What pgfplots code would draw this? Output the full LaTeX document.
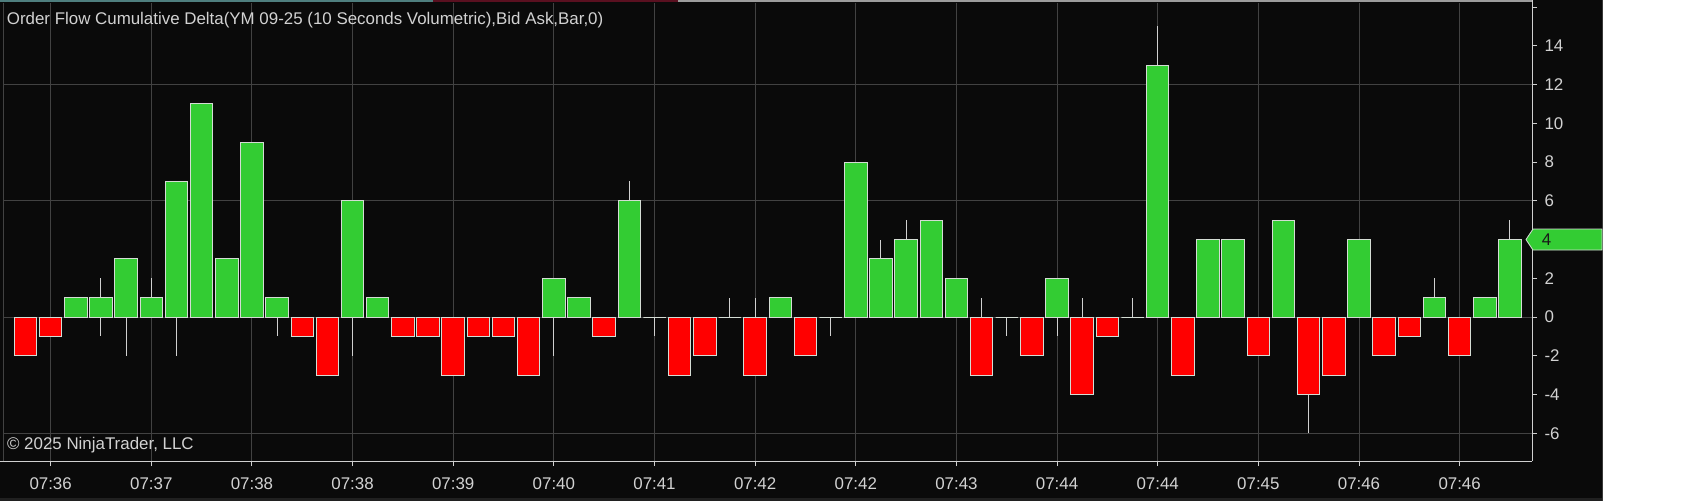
\documentclass[border=0pt]{standalone}
\usepackage{fontspec}
\setmainfont{Liberation Sans}
\usepackage{pgfplots}
\pgfplotsset{compat=1.18}
\definecolor{bg}{HTML}{0A0A0A}
\definecolor{gridgray}{HTML}{424242}
\definecolor{axisgray}{HTML}{D0D0D0}
\definecolor{txtgray}{HTML}{D2D2D2}
\definecolor{barGreen}{HTML}{33CC33}
\definecolor{barRed}{HTML}{FF0000}
\definecolor{edgegray}{HTML}{D4DCD4}
\definecolor{wickgray}{HTML}{D0D0D0}
\definecolor{topteal}{HTML}{4F7F7F}
\definecolor{topred}{HTML}{5A1020}
\newcommand{\ntfont}{\fontsize{16.9}{20}\selectfont}
\begin{document}
\begin{tikzpicture}[x=1pt,y=1pt]
\fill[white] (0,0) rectangle (1707,501);
\fill[bg] (0,0) rectangle (1603,501);
\begin{axis}[
  at={(3pt,40pt)}, anchor=south west, scale only axis,
  width=1529pt, height=458pt,
  xmin=0.106, xmax=60.876, ymin=-7.43, ymax=16.21,
  axis x line*=bottom, axis y line*=right,
  axis line style={draw=axisgray, line width=1pt},
  tick align=outside, major tick length=5pt,
  tick style={draw=axisgray, line width=1pt},
  xtick={2,6,...,58},
  xticklabels={07:36,07:37,07:38,07:38,07:39,07:40,07:41,07:42,07:42,07:43,07:44,07:44,07:45,07:46,07:46},
  ytick={-6,-4,...,16},
  yticklabels={-6,-4,-2,0,2,4,6,8,10,12,14,{}},
  ticklabel style={font=\ntfont, text=txtgray},
  xticklabel style={yshift=-8pt},
  yticklabel style={anchor=west, xshift=4pt},
  xmajorgrids,
  grid style={draw=gridgray, line width=1pt},
  extra y ticks={-6,0,6,12},
  extra y tick labels={},
  extra y tick style={grid=major, major tick length=0pt},
]
% wicks (drawn first, bars cover the inner part)
\addplot[ycomb, draw=wickgray, line width=1pt, mark=none] coordinates {
 (4,2) (6,2) (25,7) (29,1) (30,1) (35,4) (36,5) (39,1) (43,1) (45,1) (46,15) (57,2) (60,5)};
\addplot[ycomb, draw=wickgray, line width=1pt, mark=none] coordinates {
 (4,-1) (5,-2) (7,-2) (11,-1) (14,-2) (22,-2) (26,-1) (33,-1) (40,-1) (42,-1) (52,-6)};
% positive bars
\addplot[ybar, bar width=22.5pt, bar shift=0pt, fill=barGreen, draw=edgegray, line width=1pt] coordinates {
 (3,1) (4,1) (5,3) (6,1) (7,7) (8,11) (9,3) (10,9) (11,1) (14,6) (15,1) (22,2) (23,1) (25,6)
 (31,1) (34,8) (35,3) (36,4) (37,5) (38,2) (42,2) (46,13) (48,4) (49,4) (51,5) (54,4) (57,1) (59,1) (60,4)};
% negative bars
\addplot[ybar, bar width=22.5pt, bar shift=0pt, fill=barRed, draw=edgegray, line width=1pt] coordinates {
 (1,-2) (2,-1) (12,-1) (13,-3) (16,-1) (17,-1) (18,-3) (19,-1) (20,-1) (21,-3) (24,-1) (27,-3) (28,-2)
 (30,-3) (32,-2) (39,-3) (41,-2) (43,-4) (44,-1) (47,-3) (50,-2) (52,-4) (53,-3) (55,-2) (56,-1) (58,-2)};
% doji bars (zero delta)
\addplot[ybar, bar width=22.5pt, bar shift=0pt, fill=none, draw=edgegray, line width=1pt] coordinates {
 (26,0) (29,0) (33,0) (40,0) (45,0)};
\coordinate (tag4) at (axis cs:60.876,4);
\end{axis}
% frame details
\draw[gridgray, line width=1pt] (3,40) -- (3,498);
\draw[axisgray, line width=1pt] (0,40) -- (3,40);
\draw[axisgray, line width=1pt] (1532,498) -- (1532,501);
\draw[topteal, line width=1.2pt] (0,500) -- (433,500);
\draw[topred, line width=1.2pt] (433,500) -- (678,500);
\draw[axisgray!75!black, line width=1.2pt] (678,500) -- (1532,500);
\fill[gray!25!black] (0,0) rectangle (1603,3);
\draw[gray!45!black, line width=1.5pt] (1602.25,0) -- (1602.25,501);
% current value tag
\filldraw[fill=barGreen, draw=edgegray, line width=0.8pt] (tag4) ++(-6,0) -- ++(7,10.5) -- ++(69,0) -- ++(0,-21) -- ++(-69,0) -- cycle;
\node[anchor=west, inner sep=0, text=black!90, font=\ntfont] at ([xshift=9.7pt]tag4) {4};
% texts
\node[anchor=base west, inner sep=0, text=txtgray, font=\ntfont] at (6.7,476.5)
  {Order Flow Cumulative Delta(YM 09-25 (10 Seconds Volumetric),Bid Ask,Bar,0)};
\node[anchor=base west, inner sep=0, text=txtgray, font=\ntfont] at (6.9,51.2)
  {© 2025 NinjaTrader, LLC};
\pgfresetboundingbox
\useasboundingbox (0,0) rectangle (1707,501);
\end{tikzpicture}
\end{document}
